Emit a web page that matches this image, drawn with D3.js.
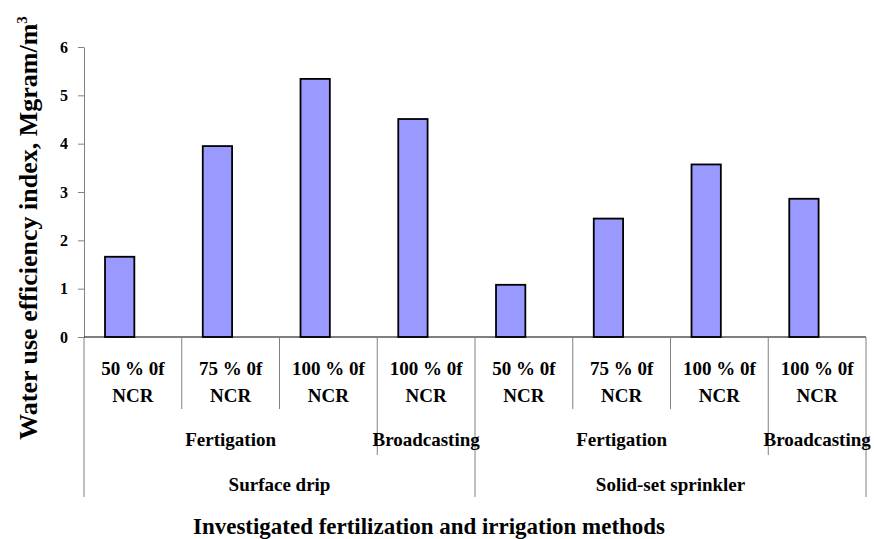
<!DOCTYPE html>
<html>
<head>
<meta charset="utf-8">
<script src="https://cdn.jsdelivr.net/npm/d3@7"></script>
<style>
  body { margin: 0; background: #fff; }
  text { font-family: "Liberation Serif", "Times New Roman", serif; font-weight: bold; fill: #000; }
</style>
</head>
<body>
<script>
var categories = ["50 % 0f|NCR", "75 % 0f|NCR", "100 % 0f|NCR", "100 % 0f|NCR",
                  "50 % 0f|NCR", "75 % 0f|NCR", "100 % 0f|NCR", "100 % 0f|NCR"];
var values = [1.66, 3.95, 5.34, 4.51, 1.08, 2.45, 3.57, 2.86];
var methods = ["Fertigation", "Broadcasting", "Fertigation", "Broadcasting"];
var methodSpans = [3, 1, 3, 1];
var groups = ["Surface drip", "Solid-set sprinkler"];
var groupSpans = [4, 4];
var yTicks = [0, 1, 2, 3, 4, 5, 6];

var width = 874, height = 539;
var plotLeft = 84, plotRight = 866, plotTop = 47, plotBase = 337;

var svg = d3.select("body").append("svg")
  .attr("width", width)
  .attr("height", height);

var x = d3.scaleBand()
  .domain(d3.range(categories.length))
  .range([plotLeft, plotRight])
  .padding(0);

var y = d3.scaleLinear()
  .domain([0, 6])
  .range([plotBase, plotTop]);

// y axis
var yAxis = d3.axisLeft(y)
  .tickValues(yTicks)
  .tickFormat(d3.format("d"))
  .tickSize(6)
  .tickSizeOuter(0)
  .tickPadding(10);
var gy = svg.append("g")
  .attr("transform", "translate(" + plotLeft + ",0)")
  .call(yAxis)
  .attr("font-family", "'Liberation Serif', serif")
  .attr("font-size", 16);
gy.select(".domain").attr("stroke", "#808080");
gy.selectAll(".tick line").attr("stroke", "#808080");
gy.selectAll(".tick text").attr("font-weight", "bold");

// bars
svg.selectAll("rect.bar")
  .data(values)
  .enter()
  .append("rect")
  .attr("class", "bar")
  .attr("x", function(d, i) { return x(i) + x.bandwidth() * 0.215; })
  .attr("y", function(d) { return y(d); })
  .attr("width", x.bandwidth() * 0.3)
  .attr("height", function(d) { return plotBase - y(d); })
  .attr("fill", "#9999ff")
  .attr("stroke", "#000")
  .attr("stroke-width", 1.8);

// baseline
svg.append("line")
  .attr("x1", plotLeft).attr("x2", plotRight)
  .attr("y1", plotBase).attr("y2", plotBase)
  .attr("stroke", "#000").attr("stroke-width", 1.2);

// dividers between categories
var methodEnds = [], acc = 0;
methodSpans.forEach(function(s) { acc += s; methodEnds.push(acc); });
var groupEnds = [0]; acc = 0;
groupSpans.forEach(function(s) { acc += s; groupEnds.push(acc); });

function edge(i) { return i < categories.length ? x(i) : plotRight; }

svg.selectAll("line.div")
  .data(d3.range(categories.length + 1))
  .enter()
  .append("line")
  .attr("class", "div")
  .attr("x1", edge)
  .attr("x2", edge)
  .attr("y1", plotBase)
  .attr("y2", function(i) {
    if (groupEnds.indexOf(i) >= 0) return 497;
    if (methodEnds.indexOf(i) >= 0) return 455;
    return 409;
  })
  .attr("stroke", "#808080")
  .attr("stroke-width", 1);

// category labels
var cl = svg.selectAll("text.cat")
  .data(categories)
  .enter()
  .append("text")
  .attr("class", "cat")
  .attr("text-anchor", "middle")
  .style("font-size", "19px");
cl.append("tspan")
  .attr("x", function(d, i) { return x(i) + x.bandwidth() / 2; })
  .attr("y", 375)
  .text(function(d) { return d.split("|")[0]; });
cl.append("tspan")
  .attr("x", function(d, i) { return x(i) + x.bandwidth() / 2; })
  .attr("y", 402)
  .text(function(d) { return d.split("|")[1]; });

// method labels
var start = 0;
methods.forEach(function(m, k) {
  var a = edge(start), b = edge(start + methodSpans[k]);
  svg.append("text")
    .attr("x", (a + b) / 2)
    .attr("y", 446)
    .attr("text-anchor", "middle")
    .style("font-size", "19px")
    .text(m);
  start += methodSpans[k];
});

// group labels
start = 0;
groups.forEach(function(g, k) {
  var a = edge(start), b = edge(start + groupSpans[k]);
  svg.append("text")
    .attr("x", (a + b) / 2)
    .attr("y", 491)
    .attr("text-anchor", "middle")
    .style("font-size", "19px")
    .text(g);
  start += groupSpans[k];
});

// axis titles
svg.append("text")
  .attr("x", 429)
  .attr("y", 534)
  .attr("text-anchor", "middle")
  .style("font-size", "24px")
  .attr("textLength", 472)
  .attr("lengthAdjust", "spacingAndGlyphs")
  .text("Investigated fertilization and irrigation methods");

var yt = svg.append("text")
  .attr("transform", "translate(37,228) rotate(-90)")
  .attr("text-anchor", "middle")
  .style("font-size", "26px");
yt.append("tspan").text("Water use efficiency index, Mgram/m");
yt.append("tspan").attr("dy", -10).style("font-size", "15px").text("3");
</script>
</body>
</html>
